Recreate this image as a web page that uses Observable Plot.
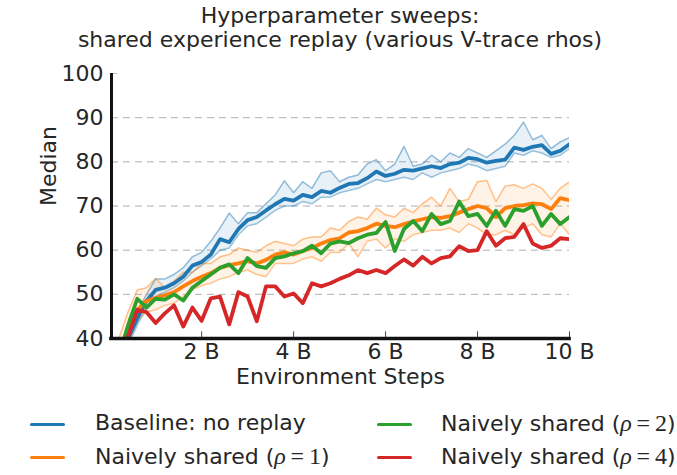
<!DOCTYPE html>
<html><head><meta charset="utf-8">
<script src="https://cdn.jsdelivr.net/npm/d3@7"></script>
<script src="https://cdn.jsdelivr.net/npm/@observablehq/plot@0.6"></script>
<style>
body{margin:0;background:#fff;font-family:"DejaVu Sans",sans-serif;color:#262626}
#wrap{position:relative;width:677px;height:475px;overflow:hidden;background:#fff}
#title{position:absolute;left:0;width:680px;top:4px;text-align:center;font-size:22px;line-height:24px;white-space:nowrap}
#chart{position:absolute;left:0;top:52px}
.leg{position:absolute;font-size:22px;line-height:24px;white-space:nowrap}
.sw{position:absolute;width:35px;height:3px;border-radius:1.5px}
.m{font-family:"Liberation Serif",serif;font-size:24px}
.m i{font-style:italic}
</style></head>
<body><div id="wrap"><div id="title"></div><div id="chart"></div></div>
<script>
const titleLines = ["Hyperparameter sweeps:", "shared experience replay (various V-trace rhos)"];
const xLabel = "Environment Steps";
const yLabel = "Median";
const xTicks = [2, 4, 6, 8, 10];
const yTicks = [40, 50, 60, 70, 80, 90, 100];
const gridTicks = [50, 60, 70, 80, 90];
const xDomain = [0.04, 10];
const yDomain = [40, 100];
// environment steps (billions)
const steps = d3.range(1, 51).map(i => i / 5);

const baseline = [36, 40, 44.5, 48.5, 51, 51.5, 52.5, 54, 56.5, 57.3,
  59, 62.5, 61.8, 64.8, 66.8, 67.5, 69, 70.4, 71.6, 71.2,
  72.5, 72, 73.4, 73, 74.1, 75, 75.2, 76.3, 77.8, 76.8,
  77.3, 78.2, 78, 78.5, 79, 78.6, 79.5, 79.8, 80.9, 80.6,
  79.8, 80.2, 80.5, 83.2, 82.7, 83.4, 83.8, 81.8, 82.5, 84];
const baselineHi = [37, 41.5, 46, 50, 53.5, 53.5, 54.5, 56, 58.5, 59.5,
  62, 65, 68.4, 66, 68.5, 68.5, 70.5, 72.5, 75.7, 73,
  75.5, 74, 77.5, 78, 75.5, 76.5, 77, 79.5, 80.5, 78,
  79.5, 83.5, 79, 79.5, 81.5, 80, 82, 81, 83, 82,
  81, 82.5, 84, 86, 89, 85, 86, 83, 84.5, 85.5];
const baselineLo = [35, 38.5, 43, 47, 49.5, 50.5, 51.5, 53, 55, 56.5,
  58, 60, 60.5, 63.5, 65.5, 66, 67.5, 69, 70, 70,
  71, 70.5, 72, 72, 73, 73.5, 74, 75, 76, 75.5,
  76, 76.5, 76, 77.5, 76.5, 77.5, 78, 78.5, 79.5, 79,
  78, 78.5, 79, 82, 81.5, 82.5, 82, 81, 81.5, 83];
const rho1 = [37, 42, 46.5, 48.5, 49.2, 49.8, 50.5, 51.8, 53, 54,
  54.8, 56, 56.6, 57, 57.5, 57, 57.8, 59, 59.5, 59,
  59.8, 60.5, 61.5, 62.3, 62.7, 64, 64.3, 65, 66, 65.5,
  65.2, 65.9, 66.5, 67, 67.5, 67.3, 67.7, 68.5, 69.3, 70,
  69.5, 67.5, 69.5, 70, 70.2, 70.6, 70.4, 69.3, 71.8, 71.3];
const rho1Hi = [40, 46, 51, 51.5, 53.6, 51.5, 53, 55, 55, 57,
  57, 58.5, 59, 60.5, 60, 59.5, 61, 62, 61.5, 61,
  62.5, 63, 63, 65, 64.5, 66.5, 67.5, 67, 69.5, 68,
  67.5, 69.5, 68.5, 70.5, 72, 70, 74, 71, 71.5, 75.5,
  75.8, 71, 74.5, 74.8, 74, 75, 74, 71.5, 74, 75.5];
const rho1Lo = [35, 39, 44, 46, 46.5, 47.5, 48, 49.5, 51, 52,
  52.5, 53.5, 54, 55, 55.5, 54.5, 54, 57, 57, 57,
  58, 58.5, 57.5, 59.5, 59.5, 61.5, 58.5, 62, 62.5, 60.5,
  62.5, 62, 63.5, 64, 64.5, 64.5, 65, 64, 66, 65,
  63.5, 63.5, 64.5, 63.5, 65, 66, 63.5, 63, 66, 63.5];
const rho2 = [36, 43, 49, 47, 49, 48.8, 50, 48.6, 51.5, 53,
  54.5, 56, 56.8, 54.8, 58.2, 56.4, 56, 58.2, 58.6, 59.3,
  59.8, 61, 59.3, 61.5, 62, 61.6, 62.7, 63.5, 63.9, 66.4,
  59.8, 64.8, 66.6, 64.3, 68.2, 65.9, 66.6, 71, 67.7, 68.2,
  65.5, 68.9, 65.5, 69.3, 68.9, 70, 65.5, 68.2, 65.9, 67.5];
const rho4 = [37, 40.5, 46.5, 46, 43.5, 45.7, 47.5, 42.7, 47, 44,
  49.1, 49.5, 43.2, 50.5, 49.5, 43.9, 51.8, 51.8, 49.5, 50.2,
  48, 52.5, 51.8, 52.5, 53.5, 54.3, 55.5, 54.8, 55.5, 54.8,
  56.4, 57.9, 56.5, 58.5, 57, 58.2, 58.6, 60.9, 59.8, 60,
  64.3, 61, 62.7, 63, 65.9, 61.5, 60.5, 61, 62.7, 62.5];

const seriesNames = ["Baseline: no replay", "Naively shared (ρ=1)", "Naively shared (ρ=2)", "Naively shared (ρ=4)"];
const legendHtml = ["Baseline: no replay",
  'Naively shared (<span class="m"><i>ρ</i>&#8201;=&#8201;1</span>)',
  'Naively shared (<span class="m"><i>ρ</i>&#8201;=&#8201;2</span>)',
  'Naively shared (<span class="m"><i>ρ</i>&#8201;=&#8201;4</span>)'];
const colors = ["#1f77b4", "#ff7f0e", "#2ca02c", "#d62728"];

const rows = v => steps.map((x, i) => ({x, y: v[i]}));
const band = (lo, hi) => steps.map((x, i) => ({x, lo: lo[i], hi: hi[i]}));

document.getElementById("title").innerHTML = titleLines.join("<br>");

const medLine = (v, c) => Plot.line(rows(v), {x: "x", y: "y", stroke: c, strokeWidth: 3.8, clip: true});
const edge = (v, c) => Plot.line(rows(v), {x: "x", y: "y", stroke: c, strokeOpacity: 0.45, strokeWidth: 1.5, clip: true});

const chart = Plot.plot({
  width: 677, height: 345,
  marginLeft: 111, marginRight: 108, marginTop: 21, marginBottom: 59,
  style: {fontFamily: "DejaVu Sans", fontSize: "22px", color: "#262626", background: "transparent"},
  x: {domain: xDomain},
  y: {domain: yDomain},
  marks: [
    Plot.gridY(gridTicks, {stroke: "#b0b0b0", strokeOpacity: 1, strokeWidth: 1, strokeDasharray: "7,5"}),
    Plot.areaY(band(baselineLo, baselineHi), {x: "x", y1: "lo", y2: "hi", fill: colors[0], fillOpacity: 0.1, clip: true}),
    edge(baselineHi, colors[0]), edge(baselineLo, colors[0]),
    Plot.areaY(band(rho1Lo, rho1Hi), {x: "x", y1: "lo", y2: "hi", fill: colors[1], fillOpacity: 0.1, clip: true}),
    edge(rho1Hi, colors[1]), edge(rho1Lo, colors[1]),
    medLine(baseline, colors[0]),
    medLine(rho1, colors[1]),
    medLine(rho2, colors[2]),
    medLine(rho4, colors[3]),
    Plot.ruleY(yTicks, {x1: xDomain[0], x2: xDomain[0] + 0.14, stroke: "#c8c8c8", strokeWidth: 1}),
    Plot.ruleX(xTicks, {y1: yDomain[0], y2: yDomain[0] + 1.5, stroke: "#444", strokeWidth: 1}),
    Plot.ruleX([xDomain[0]], {stroke: "#111", strokeWidth: 3}),
    Plot.ruleY([yDomain[0]], {stroke: "#111", strokeWidth: 3.5, x1: xDomain[0] - 0.04, x2: xDomain[1] + 0.04}),
    Plot.axisY({ticks: yTicks, tickSize: 0, tickPadding: 8, label: null, fontSize: 22, fill: "#262626"}),
    Plot.axisX({ticks: xTicks, tickFormat: d => `${d} B`, tickSize: 0, tickPadding: 5, label: null, fontSize: 22, fill: "#262626"}),
    Plot.text([xLabel], {frameAnchor: "bottom", dy: 38, lineAnchor: "middle", fontSize: 22, fill: "#262626"}),
    Plot.text([yLabel], {frameAnchor: "left", dx: -63, rotate: -90, lineAnchor: "middle", fontSize: 22, fill: "#262626"})
  ]
});
document.getElementById("chart").appendChild(chart);

// legend (two columns)
const wrap = document.getElementById("wrap");
const legPos = [[30, 95, 424], [30, 95, 457], [377, 441, 424], [377, 441, 457]];
seriesNames.forEach((name, i) => {
  const [sx, tx, cy] = legPos[i];
  const sw = document.createElement("div");
  sw.className = "sw"; sw.style.left = sx + "px"; sw.style.top = (cy - 1.5) + "px"; sw.style.background = colors[i];
  sw.title = name;
  wrap.appendChild(sw);
  const t = document.createElement("div");
  t.className = "leg"; t.style.left = tx + "px"; t.style.top = (cy - 13) + "px";
  t.innerHTML = legendHtml[i];
  wrap.appendChild(t);
});
</script></body></html>
